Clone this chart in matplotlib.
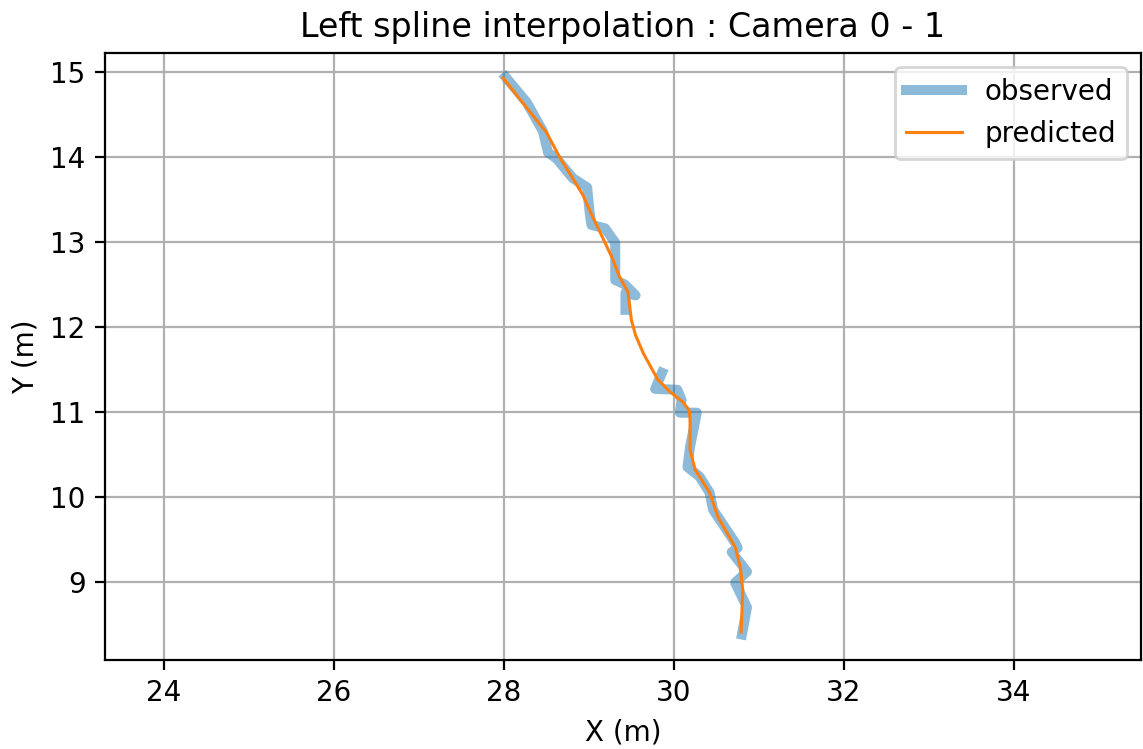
import numpy as np
import matplotlib.pyplot as plt

# observed track (two pieces, gap marked with nan)
obs_x = [28.02, 28.27, 28.46, 28.52, 28.62, 28.81, 28.98, 29.01, 29.03, 29.19, 29.31, 29.31, 29.42, 29.55, 29.43, 29.43,
         np.nan,
         29.86, 29.78, 30.04, 30.09, 30.07, 30.27, 30.19, 30.16, 30.30, 30.42, 30.46, 30.72, 30.75, 30.68, 30.86, 30.72, 30.86, 30.80]
obs_y = [14.94, 14.64, 14.30, 14.05, 13.98, 13.75, 13.64, 13.34, 13.20, 13.16, 12.99, 12.55, 12.50, 12.37, 12.40, 12.20,
         np.nan,
         11.46, 11.27, 11.26, 11.14, 10.99, 10.99, 10.59, 10.35, 10.24, 10.05, 9.85, 9.46, 9.40, 9.35, 9.12, 8.99, 8.70, 8.38]

# spline prediction
pred_x = [27.99, 28.25, 28.50, 28.66, 28.87, 28.93, 29.05, 29.11, 29.27, 29.36, 29.46, 29.50, 29.55, 29.64, 29.81, 29.95,
          30.10, 30.18, 30.19, 30.19, 30.25, 30.42, 30.52, 30.72, 30.78, 30.81, 30.80, 30.79]
pred_y = [14.93, 14.60, 14.29, 13.99, 13.65, 13.55, 13.28, 13.16, 12.82, 12.59, 12.41, 12.08, 11.90, 11.69, 11.38, 11.24,
          11.12, 11.02, 10.91, 10.55, 10.32, 10.05, 9.76, 9.41, 9.18, 8.90, 8.64, 8.41]

fig = plt.figure(figsize=(5.715, 3.745), dpi=200)
ax = fig.add_axes([0.0919, 0.1188, 0.9061, 0.8102])
ax.plot(obs_x, obs_y, linewidth=3.6, alpha=0.5, label="observed")
ax.plot(pred_x, pred_y, linewidth=1.1, label="predicted")
ax.set_xlim(23.31, 35.49)
ax.set_ylim(8.08, 15.22)
ax.set_xticks([24, 26, 28, 30, 32, 34])
ax.grid(True)
ax.legend(loc="upper right")
ax.set_title("Left spline interpolation : Camera 0 - 1")
ax.set_xlabel("X (m)")
ax.set_ylabel("Y (m)")
fig.savefig("out.png", dpi=200)
